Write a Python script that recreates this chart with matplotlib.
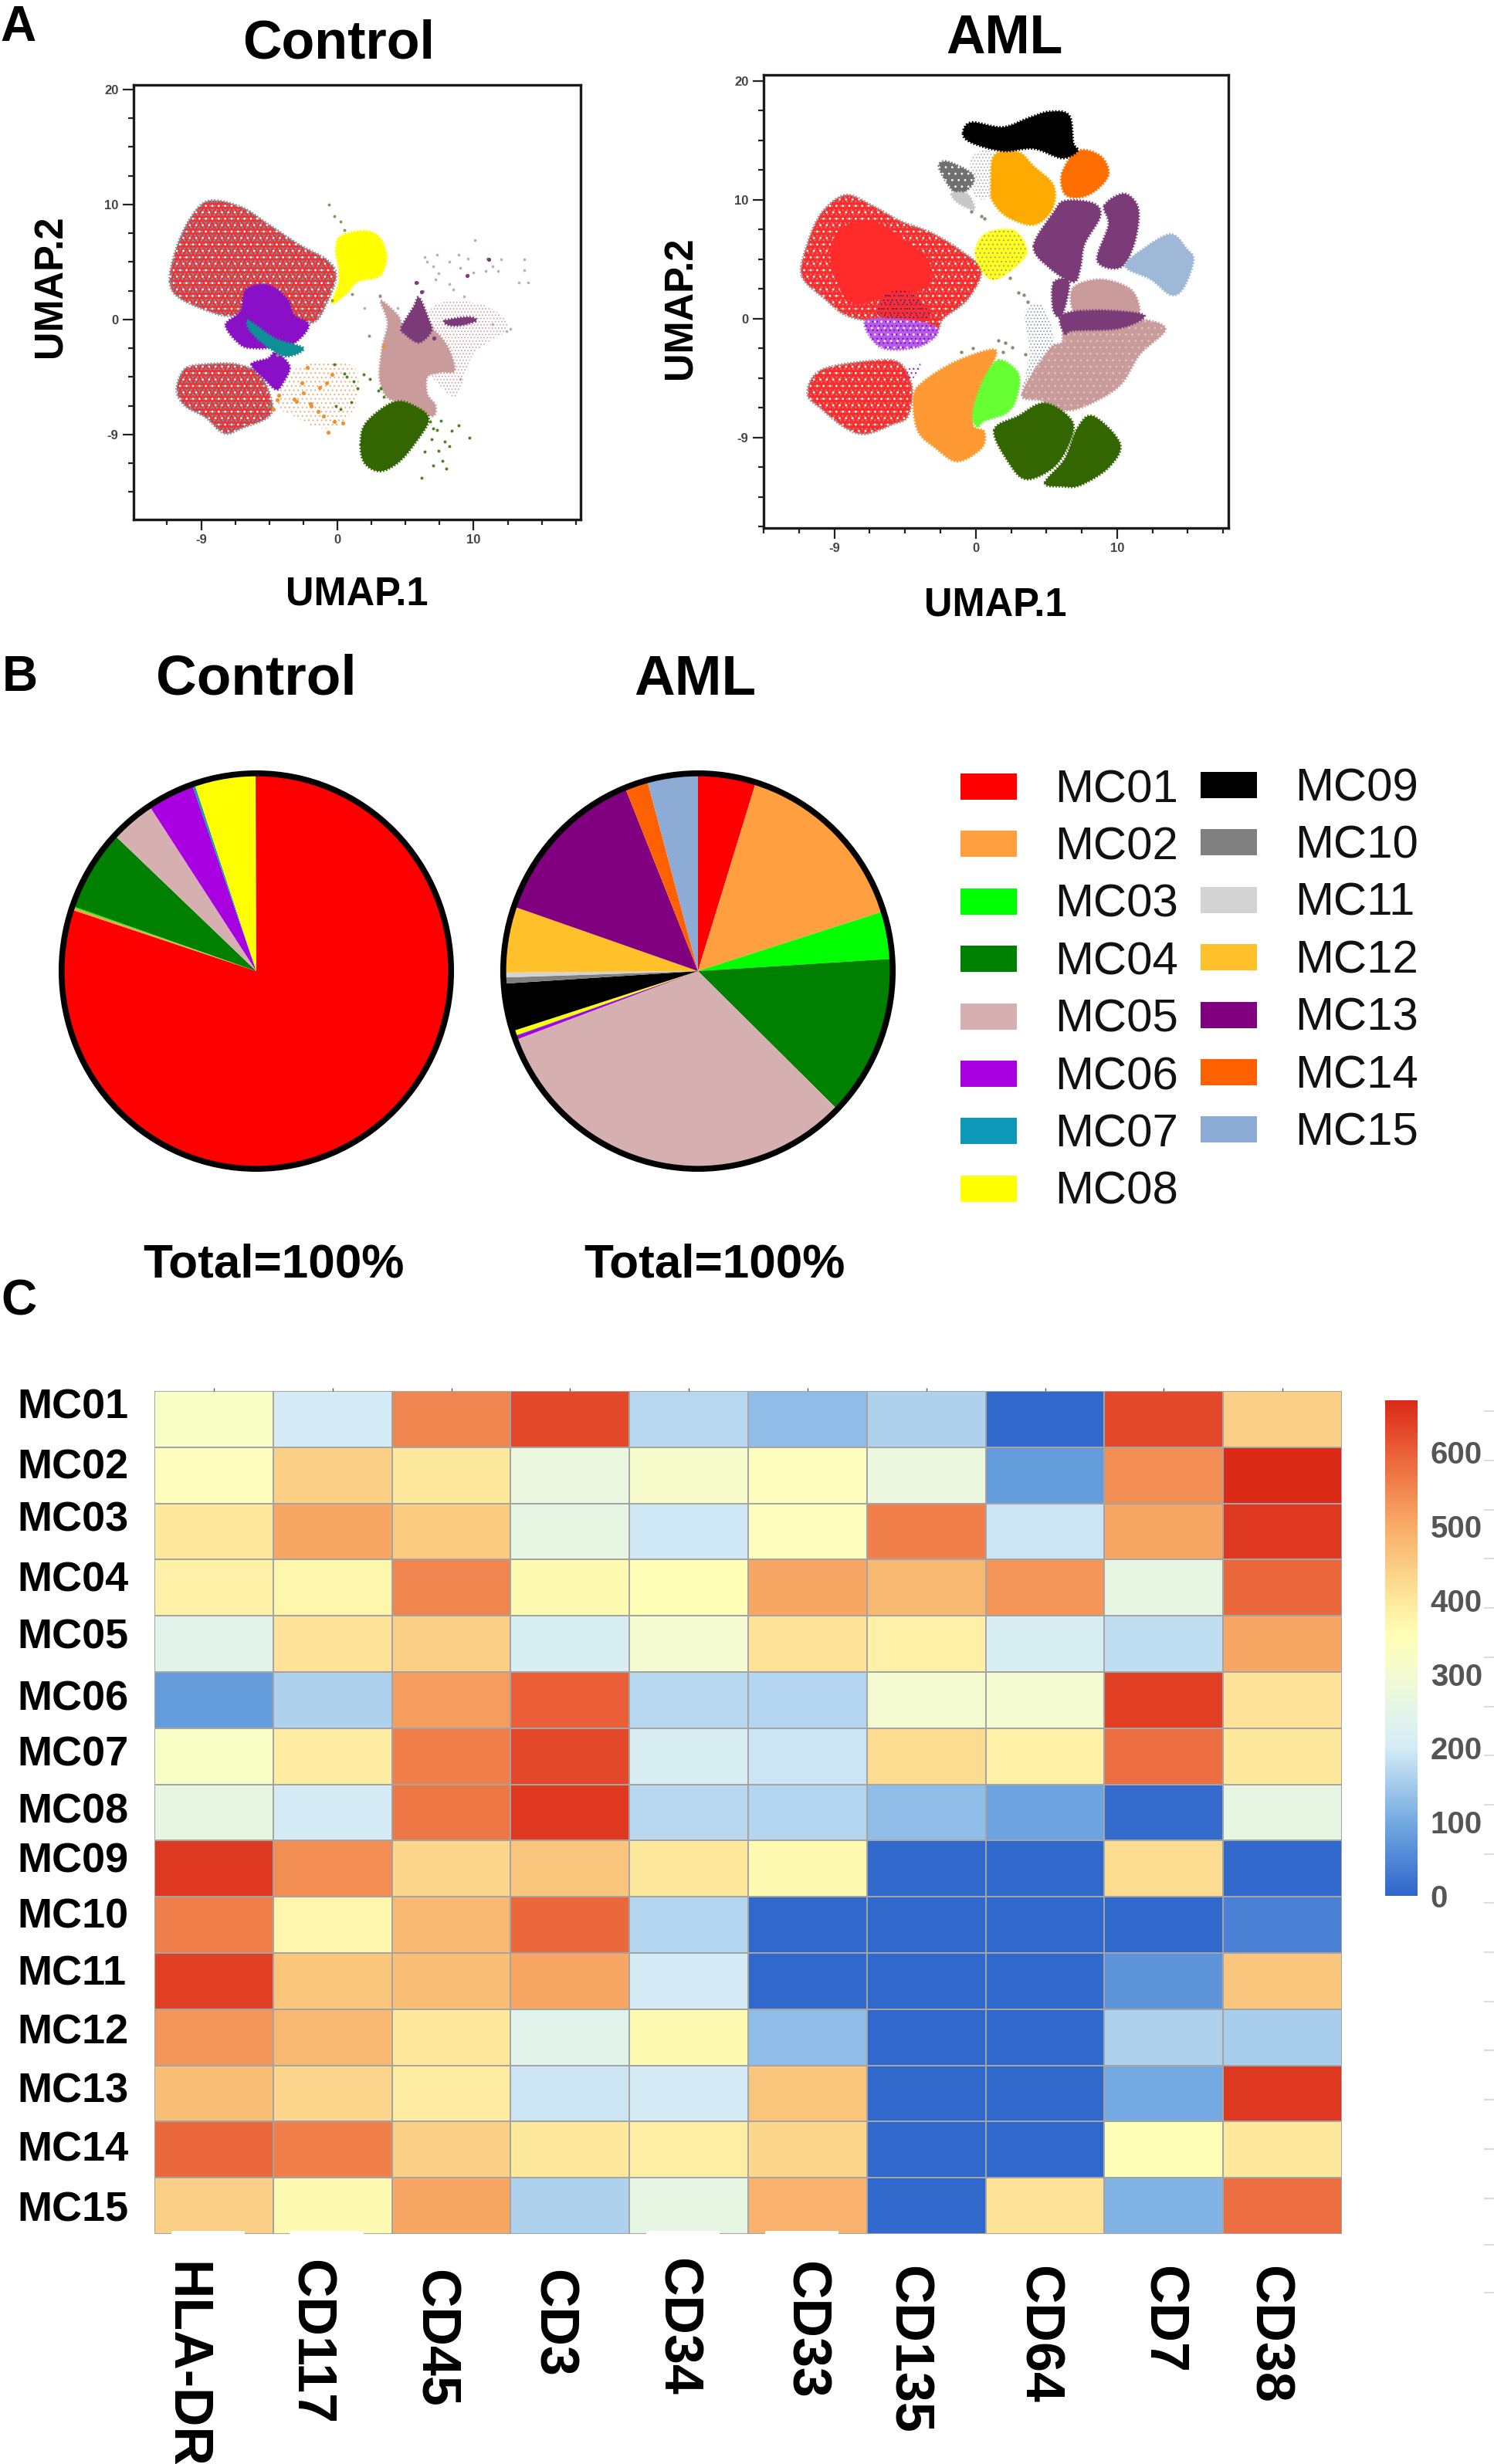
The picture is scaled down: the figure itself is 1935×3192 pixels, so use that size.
import matplotlib
matplotlib.use("Agg")
import matplotlib.pyplot as plt
import numpy as np
from matplotlib.colors import LinearSegmentedColormap, Normalize
from matplotlib.patches import Rectangle, Ellipse, PathPatch
from matplotlib.path import Path
from matplotlib.lines import Line2D
from matplotlib.ticker import MultipleLocator, FixedLocator, FixedFormatter

plt.rcParams['font.family'] = ['Liberation Sans', 'DejaVu Sans']
W, H = 1935, 3192
DPI = 100

# ---------- data: UMAP cluster outlines (UMAP units) ----------
C_RED_A = [(-12.3,3.3),(-11.9,5.9),(-10.9,8.6),(-9.5,10.3),(-7.1,9.8),(-5.1,8.3),(-2.8,6.5),(-0.8,5.2),(-0.1,3.8),(-0.8,1.4),(-1.9,-0.3),(-4.5,0.4),(-6.9,0.4),(-8.6,0.4),(-11.5,1.8)]
C_RED_B = [(-11.8,-6.1),(-11.2,-4.3),(-9.7,-3.9),(-7.4,-3.9),(-5.7,-4.8),(-4.8,-7.2),(-5.1,-8.5),(-6.9,-9.4),(-8.3,-9.9),(-9.7,-8.5),(-11.2,-7.5)]
C_PURPLE_A = [(-8.2,-0.5),(-7.1,0.7),(-6.7,2.6),(-5.1,3.0),(-3.7,1.8),(-3.2,0.4),(-2.1,-0.5),(-3.1,-2.0),(-4.5,-2.4),(-6.0,-2.5),(-7.1,-2.2)]
C_PURPLE_B = [(-6.3,-3.9),(-5.1,-3.4),(-4.5,-2.9),(-3.5,-4.1),(-4.0,-5.5),(-4.5,-6.1),(-5.4,-5.1)]
C_TEAL = [(-6.6,-0.1),(-6.0,-0.5),(-4.5,-1.7),(-2.5,-2.5),(-3.7,-3.2),(-5.1,-2.4),(-6.4,-1.0)]
C_YELLOW = [(-0.1,5.9),(0.2,7.2),(2.0,7.7),(3.1,7.1),(3.6,5.5),(3.1,3.8),(1.5,3.3),(0.7,2.3),(-0.4,1.4),(0.1,3.1),(0.1,4.5)]
C_ROSE = [(3.2,1.6),(4.4,0.4),(5.0,-0.7),(6.7,-0.7),(8.0,-2.2),(8.6,-4.4),(7.6,-4.6),(6.6,-5.0),(6.6,-6.5),(7.2,-7.5),(6.9,-8.4),(5.0,-7.2),(3.7,-6.8),(3.1,-5.1),(3.3,-2.4),(3.7,-0.3)]
C_PLUM_A = [(4.7,-0.7),(5.6,1.1),(6.0,1.9),(6.7,0.0),(6.9,-1.0),(6.0,-2.0),(5.0,-1.3)]
C_PLUM_B = [(7.9,-0.1),(9.6,0.2),(10.2,-0.1),(9.1,-0.5),(8.2,-0.5)]
C_GREEN = [(1.7,-10.9),(2.1,-9.0),(4.1,-7.2),(5.6,-7.5),(6.7,-8.7),(5.6,-10.9),(4.4,-12.5),(3.1,-13.2),(2.0,-12.5)]
C_ROSE_SPARSE = [(6.9,1.0),(10.6,1.3),(12.5,-0.7),(10.0,-3.0),(8.8,-6.6),(7.9,-6.2),(6.7,-4.1)]
C_ORANGE_SPARSE = [(-4.5,-7.2),(-2.8,-4.1),(1.2,-4.1),(1.2,-7.8),(-0.8,-9.5),(-3.1,-8.5)]

C_ROSE_DOTS_X = [6.4,7.3,8.2,9.6,10.1,11.0,11.8,13.7,13.7,13.3,14.0,7.4,8.2,9.6,5.9,6.3,4.4,3.1,2.0,10.9,12.4,11.4,9.0,6.6,7.0,8.9,9.0,10.0,11.4,12.0,7.2,8.5,9.3,12.7]
C_ROSE_DOTS_Y = [5.4,5.6,5.0,5.3,6.9,5.3,4.2,5.2,4.3,3.2,3.2,4.0,3.1,3.9,3.2,2.5,1.0,2.0,1.0,4.2,-1.0,-0.4,-5.2,5.0,4.6,5.6,4.5,4.1,4.6,5.2,3.5,2.6,2.0,-0.8]
C_PLUM_DOTS_X = [11.1,9.5,5.8,6.2,7.1]
C_PLUM_DOTS_Y = [5.2,3.8,3.2,2.4,-1.6]
C_ORANGE_DOTS_X = [-3.2,-2.6,-2.0,-1.3,-0.8,-0.4,-2.2,-1.9,-1.0,-0.2,0.4,-2.5,-3.0,-1.4,-4.4,-4.7,-4.3,3.4,-0.7]
C_ORANGE_DOTS_Y = [-6.9,-5.5,-7.3,-5.9,-5.5,-4.8,-4.2,-7.5,-8.4,-8.9,-9.0,-6.4,-7.1,-8.0,-7.0,-7.8,-6.6,-2.3,-9.8]
C_GREEN_DOTS_X = [7.0,8.4,9.7,8.2,7.4,6.2,7.7,7.0,8.0,0.7,1.2,1.5,0.5,3.2,3.4,3.0,-0.2,-0.1,6.8,7.6,6.9,8.9,7.3,6.4,7.9,1.0,0.2,1.9,2.4]
C_GREEN_DOTS_Y = [-9.5,-9.7,-10.3,-11.0,-11.4,-13.8,-12.3,-12.7,-13.0,-5.0,-5.4,-6.0,-4.7,-6.0,-6.7,-6.2,-3.9,-7.5,-8.9,-8.8,-10.4,-9.2,-9.6,-11.5,-10.6,-7.2,-7.8,-4.8,-5.2]
C_GRAY_DOTS_X = [-0.6,-0.2,0.5,0.2,-0.4,-5.0,-4.4,3.1,2.3,1.1]
C_GRAY_DOTS_Y = [10.0,9.0,7.8,8.5,1.7,-7.5,-3.1,2.1,-1.4,2.2]

A_RED_A = [(-12.3,3.6),(-11.9,6.3),(-10.9,8.9),(-9.2,10.4),(-7.3,9.5),(-5.3,8.2),(-3.1,7.2),(-0.9,5.6),(0.4,4.0),(-0.6,1.6),(-2.3,0.0),(-2.8,-1.0),(-4.5,-0.3),(-7.3,-0.2),(-9.2,0.3),(-10.6,1.6)]
A_RED_CORE = [(-9.5,7.6),(-7.0,8.0),(-5.0,6.5),(-3.3,4.8),(-3.6,2.6),(-6.0,2.0),(-8.8,1.4),(-10.2,4.8)]
A_PURPLE_UP = [(-6.9,0.3),(-6.5,2.0),(-4.8,2.3),(-3.4,0.8),(-3.4,-0.2),(-5.0,0.0)]
A_PURPLE_LOW = [(-7.8,-0.2),(-5.0,-0.1),(-3.0,-0.6),(-2.8,-1.4),(-4.2,-2.4),(-6.7,-2.4)]
A_RED_B = [(-11.9,-6.3),(-10.9,-4.3),(-7.0,-3.5),(-5.3,-3.8),(-4.5,-5.8),(-4.8,-8.2),(-5.9,-8.9),(-7.8,-9.7),(-9.2,-9.2),(-10.9,-7.6)]
A_PURPLE_B = [(-5.2,-4.6),(-3.9,-3.8),(-4.5,-5.1)]
A_ORANGE = [(-4.4,-6.6),(-3.7,-5.3),(-1.4,-3.6),(1.3,-2.6),(1.1,-4.0),(0.2,-6.3),(-0.2,-8.9),(0.6,-9.5),(0.4,-10.9),(-1.3,-12.0),(-2.8,-10.9),(-4.1,-9.4)]
A_LIME = [(1.6,-3.5),(3.0,-4.6),(2.9,-6.6),(2.2,-7.9),(0.6,-8.6),(0.1,-9.1),(-0.2,-7.9),(0.5,-5.3)]
A_GREEN_A = [(1.3,-9.4),(3.0,-8.2),(4.9,-7.1),(6.8,-8.6),(6.6,-10.5),(5.5,-12.5),(3.6,-13.5),(2.4,-12.2)]
A_GREEN_B = [(4.9,-13.8),(6.3,-11.8),(7.2,-9.2),(8.3,-8.2),(10.2,-10.5),(9.4,-12.5),(7.4,-14.0),(6.1,-14.1)]
A_ROSE_A = [(3.3,-6.3),(5.2,-2.6),(6.1,-2.0),(6.6,-0.7),(10.8,0.0),(13.4,-0.8),(11.6,-3.0),(10.2,-5.6),(8.0,-7.2),(6.3,-7.7),(4.7,-6.9)]
A_ROSE_B = [(6.9,2.6),(8.8,3.3),(10.8,2.6),(11.5,1.3),(11.2,0.3),(8.0,0.7),(6.9,0.7)]
A_BLUE = [(10.6,4.4),(11.9,5.9),(13.8,7.1),(14.9,5.9),(15.4,4.9),(14.7,2.6),(13.8,2.0),(12.4,3.3)]
A_PLUM_A = [(4.1,6.1),(5.5,8.9),(6.3,9.9),(8.3,9.7),(8.8,8.6),(7.7,6.3),(7.4,4.3),(6.9,3.1),(5.2,4.3)]
A_PLUM_B = [(9.1,9.5),(10.5,10.5),(11.5,9.2),(11.2,6.3),(10.2,4.3),(8.6,4.9),(9.4,7.9)]
A_PLUM_C = [(6.1,0.3),(8.6,0.7),(11.9,0.3),(10.2,-0.8),(6.9,-1.0),(6.3,-1.3)]
A_PLUM_D = [(5.5,3.0),(6.6,3.1),(6.1,0.3),(5.5,0.7)]
A_YELLOW = [(0.0,5.9),(0.8,7.2),(2.7,7.4),(3.6,5.6),(2.4,4.0),(1.1,3.3),(0.2,4.6)]
A_AMBER = [(1.1,10.9),(1.3,13.7),(3.0,14.0),(4.1,12.8),(5.5,11.2),(5.4,9.2),(4.1,7.9),(2.2,8.6),(1.2,9.9)]
A_DARKORANGE = [(6.1,12.2),(7.2,14.1),(8.8,13.7),(9.4,12.2),(8.6,10.9),(7.4,10.2),(6.3,10.5)]
A_BLACK = [(-0.9,15.6),(-0.3,16.5),(1.9,16.1),(3.8,16.9),(5.2,17.4),(6.6,17.1),(6.9,14.8),(7.2,14.1),(6.1,13.5),(4.1,14.3),(1.9,14.1),(-0.3,14.8)]
A_GRAY = [(-2.6,12.8),(-2.0,13.2),(-0.3,12.2),(-0.3,11.2),(-1.2,10.5),(-1.9,11.2)]
A_LIGHTGRAY = [(-1.7,10.5),(-0.6,10.5),(-0.1,9.2),(-1.2,9.7)]
A_SPARSE_LEFT = [(3.5,0.6),(4.8,1.0),(5.5,-2.4),(4.2,-6.2),(3.2,-6.5),(3.8,-3.0)]
A_SPARSE_TOP = [(-0.3,13.6),(1.1,14.0),(1.1,10.5),(0.0,10.2),(-0.3,12.0)]
A_DOTS_X = [-0.3,0.6,1.6,2.1,3.0,3.4,3.7,2.6,1.9,3.5,-1.0,-0.2,0.4,2.4]
A_DOTS_Y = [9.0,8.4,-1.8,-2.0,2.2,2.0,1.4,-2.4,-2.8,-3.0,-2.8,-2.5,8.6,3.4]

# ---------- data: pies ----------
CLUSTERS = ['MC01','MC02','MC03','MC04','MC05','MC06','MC07','MC08','MC09','MC10','MC11','MC12','MC13','MC14','MC15']
CONTROL_PCT = [80.0,0.2,0.1,6.7,3.7,3.9,0.2,5.1,0,0,0,0,0.05,0,0]
AML_PCT = [4.8,15.3,3.9,13.3,32.0,0.3,0.05,0.4,3.9,0.5,0.4,5.4,13.6,1.9,4.2]
PIE_COLORS = ['#ff0000','#ff9f40','#00ff00','#008000','#d6b0b0','#a800e0','#1098b8','#ffff00','#000000','#808080','#d3d3d3','#ffc02a','#800080','#ff6000','#8cabd5']

# ---------- data: heatmap ----------
MARKERS = ['HLA-DR','CD117','CD45','CD3','CD34','CD33','CD135','CD64','CD7','CD38']
HEAT = [
 [320,200,550,630,170,130,160,5,630,440],
 [340,440,400,270,310,340,270,80,540,670],
 [400,510,450,260,195,340,560,190,510,650],
 [380,370,550,360,350,510,480,530,260,590],
 [240,410,440,210,300,410,380,210,180,510],
 [80,160,520,600,170,165,300,300,640,410],
 [320,390,560,630,210,190,420,380,580,400],
 [260,200,570,650,170,165,130,90,10,260],
 [650,540,430,460,400,360,5,5,420,5],
 [560,370,480,590,165,5,5,5,5,40],
 [640,460,470,510,200,5,5,5,70,460],
 [530,480,400,240,360,130,5,5,160,155],
 [470,430,390,190,200,460,5,5,100,650],
 [590,560,440,400,385,430,5,5,350,400],
 [440,360,510,160,260,490,5,410,115,580],
]
CBAR_TICKS = [0,100,200,300,400,500,600]

fig = plt.figure(figsize=(W/DPI, H/DPI), dpi=DPI, facecolor='white')

def axpx(l, t, r, b, **kw):
    return fig.add_axes([l/W, 1-b/H, (r-l)/W, (b-t)/H], **kw)

def txt(x, y, s, px, **kw):
    kw.setdefault('ha', 'center')
    kw.setdefault('va', 'baseline')
    kw.setdefault('fontweight', 'bold')
    kw.setdefault('color', 'black')
    fig.text(x/W, 1-y/H, s, fontsize=px*0.72, **kw)

def rounded(poly):
    """Closed outline through the read vertices, with rounded corners."""
    p = np.array(poly, float)
    n = len(p)
    verts = [p[0]]
    codes = [Path.MOVETO]
    for i in range(n):
        a, b, c, d = p[(i-1) % n], p[i], p[(i+1) % n], p[(i+2) % n]
        verts += [b + (c-a)/6, c - (d-b)/6, c]
        codes += [Path.CURVE4]*3
    return Path(verts, codes)

def region(ax, poly, color, z=2, fringe=None):
    ax.add_patch(PathPatch(rounded(poly), fc=color, ec=fringe or color, lw=2.4,
                           ls=(0, (0.5, 0.7)), zorder=z))

def speck(ax, poly, color, hatch, z=3):
    ax.add_patch(PathPatch(rounded(poly), fc='none', ec=color, hatch=hatch, lw=0, zorder=z))

def umap_axes(l, t, r, b, xlim, ylim):
    ax = axpx(l, t, r, b)
    ax.set_xlim(*xlim); ax.set_ylim(*ylim)
    for s in ax.spines.values():
        s.set_linewidth(2.4); s.set_color('#1a1a1a')
    ax.xaxis.set_major_locator(FixedLocator([-10, 0, 10]))
    ax.xaxis.set_major_formatter(FixedFormatter(['-9', '0', '10']))
    ax.yaxis.set_major_locator(FixedLocator([-10, 0, 10, 20]))
    ax.yaxis.set_major_formatter(FixedFormatter(['-9', '0', '10', '20']))
    ax.xaxis.set_minor_locator(MultipleLocator(2.5))
    ax.yaxis.set_minor_locator(MultipleLocator(2.5))
    ax.tick_params(which='major', length=10, width=1.6, color='#222', labelsize=12, labelcolor='#444', pad=4)
    ax.tick_params(which='minor', length=5, width=1.6, color='#222')
    for lab in ax.get_xticklabels() + ax.get_yticklabels():
        lab.set_fontweight('bold')
    return ax

plt.rcParams['hatch.linewidth'] = 0.8

# ---------- panel A, control ----------
ax = umap_axes(173, 110, 752, 673, (-14.96, 17.85), (-17.4, 20.4))
RED = '#ff2a2a'
for p in (C_RED_A, C_RED_B):
    region(ax, p, RED, 2, fringe='#8a8f98')
    speck(ax, p, '#7f8088', '....', 3)
    speck(ax, p, '#35b8d8', '...', 3)
    speck(ax, p, 'white', '..', 3)
speck(ax, C_ROSE_SPARSE, '#cfa8a8', '....', 2)
speck(ax, C_ORANGE_SPARSE, '#e8b080', '...', 2)
region(ax, C_ROSE, '#c99b9b', 4)
region(ax, C_PLUM_A, '#7b3a78', 5)
region(ax, C_PLUM_B, '#7b3a78', 5)
region(ax, C_PURPLE_A, '#8a10c8', 5)
region(ax, C_PURPLE_B, '#8a10c8', 5)
region(ax, C_TEAL, '#0e8f96', 6)
region(ax, C_YELLOW, '#ffff00', 5)
region(ax, C_GREEN, '#336600', 5)
ax.scatter(C_ROSE_DOTS_X, C_ROSE_DOTS_Y, s=7, c='#c8a8b0', lw=0, zorder=6)
ax.scatter(C_PLUM_DOTS_X, C_PLUM_DOTS_Y, s=14, c='#7b3a78', lw=0, zorder=6)
ax.scatter(C_ORANGE_DOTS_X, C_ORANGE_DOTS_Y, s=14, c='#f09030', lw=0, zorder=6)
ax.scatter(C_GREEN_DOTS_X, C_GREEN_DOTS_Y, s=8, c='#4f8020', lw=0, zorder=6)
ax.scatter(C_GRAY_DOTS_X, C_GRAY_DOTS_Y, s=8, c='#909060', lw=0, zorder=6)

# ---------- panel A, AML ----------
ax = umap_axes(989, 97, 1591, 684, (-15.0, 17.87), (-17.6, 20.5))
for p in (A_RED_A, A_RED_B):
    region(ax, p, RED, 2, fringe='#a09090')
    speck(ax, p, '#a09090', '...', 3)
    speck(ax, p, 'white', '..', 3)
region(ax, A_RED_CORE, RED, 3.2)
speck(ax, A_PURPLE_UP, '#701060', '...', 4)
speck(ax, A_PURPLE_UP, '#701060', '..', 4)
region(ax, A_PURPLE_LOW, '#b85ce8', 3.5)
speck(ax, A_PURPLE_LOW, '#8010c8', '...', 4)
speck(ax, A_PURPLE_LOW, '#ffffff', '..', 4)
speck(ax, A_PURPLE_B, '#8010c8', '...', 4)
speck(ax, A_SPARSE_LEFT, '#90a0a8', '....', 2)
speck(ax, A_SPARSE_TOP, '#b0b0b0', '....', 2)
region(ax, A_ROSE_A, '#c99b9b', 4)
region(ax, A_ROSE_B, '#c99b9b', 4)
speck(ax, A_ROSE_A, '#dcc4c4', '..', 4)
region(ax, A_PLUM_A, '#7b3a78', 5)
region(ax, A_PLUM_B, '#7b3a78', 5)
region(ax, A_PLUM_C, '#7b3a78', 5)
region(ax, A_PLUM_D, '#7b3a78', 5)
region(ax, A_BLUE, '#a0b8d8', 5)
region(ax, A_ORANGE, '#ff9933', 5)
region(ax, A_LIME, '#66ff33', 6)
region(ax, A_GREEN_A, '#336600', 5)
region(ax, A_GREEN_B, '#336600', 5)
region(ax, A_YELLOW, '#ffff20', 5)
speck(ax, A_YELLOW, '#a8a870', '...', 5)
region(ax, A_AMBER, '#ffaa00', 6)
region(ax, A_DARKORANGE, '#ff6e00', 6)
region(ax, A_BLACK, '#000000', 7)
region(ax, A_GRAY, '#707070', 5)
speck(ax, A_GRAY, '#ffffff', '..', 5)
region(ax, A_LIGHTGRAY, '#c8c8c8', 5)
ax.scatter(A_DOTS_X, A_DOTS_Y, s=10, c='#908870', lw=0, zorder=8)

txt(24, 53, 'A', 64)
txt(439, 76, 'Control', 70)
txt(1301, 69, 'AML', 70)
txt(462, 783, 'UMAP.1', 50.6)
txt(1289, 798, 'UMAP.1', 50.6)
txt(66, 371, 'UMAP.2', 50.6, rotation=90, va='center', ha='center')
txt(882, 399, 'UMAP.2', 50.6, rotation=90, va='center', ha='center')

# ---------- panel B ----------
txt(26, 895, 'B', 64)
txt(332, 900, 'Control', 73)
txt(900, 900, 'AML', 73)
txt(354, 1654, 'Total=100%', 62)
txt(925, 1654, 'Total=100%', 62)

for cx, vals in ((332, CONTROL_PCT), (904, AML_PCT)):
    pax = axpx(cx-256, 1258-260, cx+256, 1258+260)
    pax.pie(vals, colors=PIE_COLORS, startangle=90, counterclock=False, radius=1.0,
            wedgeprops=dict(linewidth=0), frame=False)
    pax.set_aspect('auto')
    pax.set_xlim(-1.015, 1.015); pax.set_ylim(-1.015, 1.015)
    pax.add_patch(Ellipse((0, 0), 2, 2, fill=False, ec='black', lw=5.5, zorder=5, clip_on=False))
    pax.axis('off')

bg = axpx(0, 0, W, H)
bg.set_xlim(0, W); bg.set_ylim(H, 0); bg.axis('off'); bg.patch.set_alpha(0)
bg.set_zorder(-1)
LEGEND_COL_SPLIT = 8
for i, (name, col) in enumerate(zip(CLUSTERS, PIE_COLORS)):
    c = 0 if i < LEGEND_COL_SPLIT else 1
    r = i if c == 0 else i - LEGEND_COL_SPLIT
    sx = 1244 if c == 0 else 1555
    tx = 1366 if c == 0 else 1677
    sy = 1002 + r*74.4 - (2 if c else 0)
    bg.add_patch(Rectangle((sx, sy), 73, 34, fc=col, ec='none'))
    txt(tx, sy+17+20, name, 60, ha='left', fontweight='normal', color='#111111')

# ---------- panel C ----------
txt(24, 1704, 'C', 64)
cmap = LinearSegmentedColormap.from_list('heat', [
    (0/670, '#2f66cb'), (100/670, '#74aae1'), (200/670, '#d5ecf6'), (250/670, '#e4f5e8'),
    (300/670, '#f4fbd0'), (350/670, '#ffffb8'), (400/670, '#fde89c'), (500/670, '#f8ad68'),
    (600/670, '#ea6038'), (670/670, '#db2a18')])
norm = Normalize(0, 670)
hax = axpx(200, 1802, 1738, 2894)
mesh = hax.pcolormesh(np.array(HEAT), cmap=cmap, norm=norm, edgecolors='#a4a4a4', linewidth=1.3)
hax.invert_yaxis()
hax.set_xticks(np.arange(len(MARKERS)) + .5)
hax.set_yticks([])
hax.xaxis.tick_top()
hax.tick_params(axis='x', length=3, width=1, color='#555', labeltop=False)
for s in hax.spines.values():
    s.set_visible(False)
# faded patches along the lower edge of the last row
for col in (0, 1, 4, 5):
    hax.add_patch(Rectangle((col+.14, 14.94), .62, .06, fc='white', ec='none', zorder=4))

ROW_LABEL_CENTRE = [1819,1897,1965,2043,2117,2197,2269,2342,2407,2478,2552,2628,2704,2780,2859]
for name, y in zip(CLUSTERS, ROW_LABEL_CENTRE):
    txt(22, y+19, name, 54, ha='left')

COL_LABEL_X = [239,401,562,715,876,1042,1175,1344,1505,1642]
COL_LABEL_TOP = [2930,2927,2940,2940,2925,2929,2935,2935,2935,2935]
for name, x, y in zip(MARKERS, COL_LABEL_X, COL_LABEL_TOP):
    txt(x, y, name, 70, rotation=-90, ha='center', va='top')

cax = axpx(1794, 1814, 1836, 2456)
cb = fig.colorbar(mesh, cax=cax, ticks=CBAR_TICKS)
cb.outline.set_visible(False)
cb.ax.tick_params(length=0, pad=12, labelsize=29, labelcolor='#555555')
for lab in cb.ax.get_yticklabels():
    lab.set_fontweight('bold')

EDGE_DASHES = [1828,1892,1956,2019,2083,2147,2211,2274,2338,2402,2465,2529,2593,2656,2720,2784,2848,2908,2970]
for y in EDGE_DASHES:
    fig.add_artist(Line2D([1923/W, 1935/W], [1-y/H, 1-y/H], color='#dddddd', lw=1.5))

fig.savefig('out.png', dpi=DPI)
